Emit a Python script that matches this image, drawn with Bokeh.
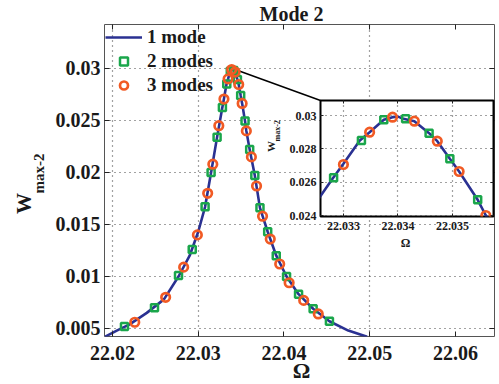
import math
from bokeh.plotting import figure
from bokeh.models import FixedTicker, LinearAxis, Label, Range1d, GridBox
from bokeh.embed import file_html
from bokeh.resources import INLINE

# ---------------- data ----------------
series_names = ["1 mode", "2 modes", "3 modes"]

# 1 mode: continuous curve
curve_x = [22.0191, 22.0205, 22.0220, 22.0240, 22.0260, 22.0277, 22.0290, 22.0300,
           22.0308, 22.0315, 22.0322, 22.0328, 22.0330, 22.0333, 22.03348, 22.03374,
           22.0339, 22.0340, 22.0341, 22.0343, 22.03457, 22.03472, 22.03495, 22.03512,
           22.03546, 22.03561, 22.0360, 22.0366, 22.0372, 22.0381, 22.0391, 22.0403,
           22.0417, 22.0434, 22.0453, 22.0475, 22.0497]
curve_y = [0.0042, 0.0048, 0.0054, 0.0065, 0.0078, 0.0100, 0.0120, 0.0143,
           0.0167, 0.0200, 0.0234, 0.0262, 0.0271, 0.0285, 0.0290, 0.02974,
           0.0299, 0.02993, 0.0298, 0.02966, 0.02894, 0.02846, 0.0274, 0.02664,
           0.02494, 0.0240, 0.0222, 0.0197, 0.0166, 0.0143, 0.0120, 0.0100,
           0.0083, 0.0069, 0.0057, 0.0048, 0.0042]

# 2 modes: squares
two_x = [22.0214, 22.0249, 22.0277, 22.0293, 22.0308, 22.0315, 22.0322, 22.03282,
         22.03333, 22.03374, 22.03414, 22.03457, 22.03495, 22.03546, 22.0360, 22.0366,
         22.0372, 22.0381, 22.0391, 22.0403, 22.0417, 22.0434, 22.0453]
two_y = [0.0052, 0.0070, 0.0101, 0.0126, 0.0167, 0.0200, 0.0234, 0.02626,
         0.0285, 0.02974, 0.0298, 0.02894, 0.0274, 0.02494, 0.0222, 0.0197,
         0.0166, 0.0143, 0.0120, 0.0100, 0.0083, 0.0069, 0.0057]

# 3 modes: circles
three_x = [22.0226, 22.0262, 22.0283, 22.0299, 22.0311, 22.0317, 22.0324, 22.0330,
           22.03348, 22.0339, 22.0343, 22.03472, 22.03512, 22.03561, 22.0362, 22.0368,
           22.0375, 22.0384, 22.0395, 22.0406, 22.0423, 22.0440]
three_y = [0.0056, 0.0080, 0.0109, 0.0140, 0.0180, 0.0208, 0.0245, 0.02706,
           0.0290, 0.0299, 0.02966, 0.02846, 0.02664, 0.0240, 0.0215, 0.0187,
           0.0158, 0.0136, 0.0112, 0.0094, 0.0077, 0.0064]

x_ticks = [22.02, 22.03, 22.04, 22.05, 22.06]
x_tick_labels = ["22.02", "22.03", "22.04", "22.05", "22.06"]
x_grid_ticks = [22.02, 22.03, 22.05]
y_ticks = [0.005, 0.01, 0.015, 0.02, 0.025, 0.03]
y_tick_labels = ["0.005", "0.01", "0.015", "0.02", "0.025", "0.03"]

inset_x_ticks = [22.033, 22.034, 22.035]
inset_x_tick_labels = ["22.033", "22.034", "22.035"]
inset_y_ticks = [0.024, 0.026, 0.028, 0.03]
inset_y_tick_labels = ["0.024", "0.026", "0.028", "0.03"]

title_text = "Mode 2"
x_label_text = "Ω"
y_label_main = "W"
y_label_sub = "max-2"

main_x_range = (22.01907, 22.06455)
main_y_range = (0.00423, 0.03423)
inset_x_range = (22.03258, 22.03575)
inset_y_range = (0.02394, 0.0309)

# connector: from the peak to the inset's top-left corner
connector_x = [22.0343, 22.04426]
connector_y = [0.0299, 0.02692]

# ---------------- styles ----------------
FONT = "Liberation Serif"
BLUE = "#2a3192"
GREEN = "#1aa64b"
ORANGE = "#f15a24"
TXT = "#1a1a1a"
W, H = 499, 384


def style_axis(ax, size, tick_len, standoff, ticks, labels=None):
    ax.ticker = FixedTicker(ticks=ticks)
    if labels is not None:
        ax.major_label_overrides = {t: l for t, l in zip(ticks, labels)}
        ax.major_label_text_font = FONT
        ax.major_label_text_font_style = "bold"
        ax.major_label_text_font_size = f"{size}px"
        ax.major_label_text_color = TXT
        ax.major_label_standoff = standoff
    else:
        ax.major_label_text_font_size = "1px"
        ax.major_label_text_color = None
        ax.major_label_standoff = 0
    ax.major_tick_in = tick_len
    ax.major_tick_out = 0
    ax.minor_tick_in = 0
    ax.minor_tick_out = 0
    ax.major_tick_line_color = "#222"
    ax.major_tick_line_width = 1
    ax.axis_line_color = None


# ---------------- main figure ----------------
p = figure(width=W, height=H, output_backend="svg", toolbar_location=None,
           x_range=Range1d(*main_x_range), y_range=Range1d(*main_y_range),
           min_border_left=104, min_border_right=5, min_border_top=24, min_border_bottom=48)
p.background_fill_color = "white"
p.border_fill_color = "white"
p.outline_line_color = "#555"
p.outline_line_width = 1

style_axis(p.xaxis[0], 20, 5, 9, x_ticks, x_tick_labels)
style_axis(p.yaxis[0], 20, 5, 4, y_ticks, y_tick_labels)
top_ax = LinearAxis()
right_ax = LinearAxis()
style_axis(top_ax, 0, 5, 0, x_ticks)
style_axis(right_ax, 0, 5, 0, y_ticks)
p.add_layout(top_ax, "above")
p.add_layout(right_ax, "right")

p.xgrid.ticker = FixedTicker(ticks=x_grid_ticks)
p.ygrid.ticker = FixedTicker(ticks=y_ticks)
for g in (p.xgrid[0], p.ygrid[0]):
    g.grid_line_color = "#444"
    g.grid_line_dash = "1 4"
    g.grid_line_width = 1.2

p.line(connector_x, connector_y, line_color="black", line_width=1.5)
p.line(curve_x, curve_y, line_color=BLUE, line_width=2.6, legend_label=series_names[0])
p.scatter(two_x, two_y, marker="square", size=7, fill_color=None,
          line_color=GREEN, line_width=2.5, legend_label=series_names[1])
p.scatter(three_x, three_y, marker="circle", size=8.5, fill_color=None,
          line_color=ORANGE, line_width=2.7, legend_label=series_names[2])

lg = p.legend[0]
lg.location = (1, 240)
lg.background_fill_alpha = 0
lg.border_line_color = None
lg.margin = 0
lg.padding = 0
lg.spacing = 2
lg.glyph_width = 37
lg.glyph_height = 20
lg.label_height = 20
lg.label_standoff = 5
lg.label_text_font = FONT
lg.label_text_font_style = "bold"
lg.label_text_font_size = "19px"
lg.label_text_color = TXT

# ---------------- inset figure ----------------
ins = figure(width=227, height=150, output_backend="svg", toolbar_location=None,
             x_range=Range1d(*inset_x_range), y_range=Range1d(*inset_y_range),
             min_border_left=52, min_border_right=2, min_border_top=2, min_border_bottom=32)
ins.background_fill_color = "white"
ins.border_fill_color = None
ins.border_fill_alpha = 0
ins.outline_line_color = "black"
ins.outline_line_width = 2

style_axis(ins.xaxis[0], 12, 3, 5, inset_x_ticks, inset_x_tick_labels)
style_axis(ins.yaxis[0], 12, 3, 4, inset_y_ticks, inset_y_tick_labels)
ins_top = LinearAxis()
ins_right = LinearAxis()
style_axis(ins_top, 0, 3, 0, inset_x_ticks)
style_axis(ins_right, 0, 3, 0, inset_y_ticks)
ins.add_layout(ins_top, "above")
ins.add_layout(ins_right, "right")

ins.xgrid.ticker = FixedTicker(ticks=inset_x_ticks)
ins.ygrid.ticker = FixedTicker(ticks=inset_y_ticks)
for g in (ins.xgrid[0], ins.ygrid[0]):
    g.grid_line_color = "#444"
    g.grid_line_dash = "1 4"
    g.grid_line_width = 1.2

ins.line(curve_x, curve_y, line_color=BLUE, line_width=2.6)
ins.scatter(two_x, two_y, marker="square", size=7, fill_color=None,
            line_color=GREEN, line_width=2.5)
ins.scatter(three_x, three_y, marker="circle", size=8.5, fill_color=None,
            line_color=ORANGE, line_width=2.7)

# ---------------- transparent overlay carrying the free texts ----------------
ov = figure(width=W, height=H, output_backend="svg", toolbar_location=None,
            x_axis_type=None, y_axis_type=None,
            x_range=Range1d(0, W), y_range=Range1d(0, H),
            min_border_left=0, min_border_right=0, min_border_top=0, min_border_bottom=0)
ov.background_fill_alpha = 0
ov.border_fill_alpha = 0
ov.background_fill_color = None
ov.border_fill_color = None
ov.outline_line_color = None
ov.xgrid.visible = False
ov.ygrid.visible = False


def add_text(txt, x, y, size, align="center", angle=0.0):
    ov.add_layout(Label(x=x, y=H - y, x_units="screen", y_units="screen", text=txt,
                        angle=angle, text_align=align, text_baseline="middle",
                        text_font=FONT, text_font_style="bold",
                        text_font_size=f"{size}px", text_color=TXT))


add_text(title_text, 291, 13, 20)
add_text(x_label_text, 301, 370, 22)
add_text(y_label_main, 23.5, 203, 21, angle=math.pi / 2)
add_text(y_label_sub, 38, 193, 15, align="left", angle=math.pi / 2)
add_text(x_label_text, 405, 242, 12)
add_text(y_label_main, 270, 146, 11, angle=math.pi / 2)
add_text(y_label_sub, 277, 141, 8, align="left", angle=math.pi / 2)

for f in (p, ins, ov):
    f.align = "start"
    try:
        f.frame_align = False
    except AttributeError:
        pass
ins.margin = (98, 0, 0, 268)
layout = GridBox(children=[(p, 0, 0), (ins, 0, 0), (ov, 0, 0)])

open("out.html", "w").write(file_html(layout, INLINE))
